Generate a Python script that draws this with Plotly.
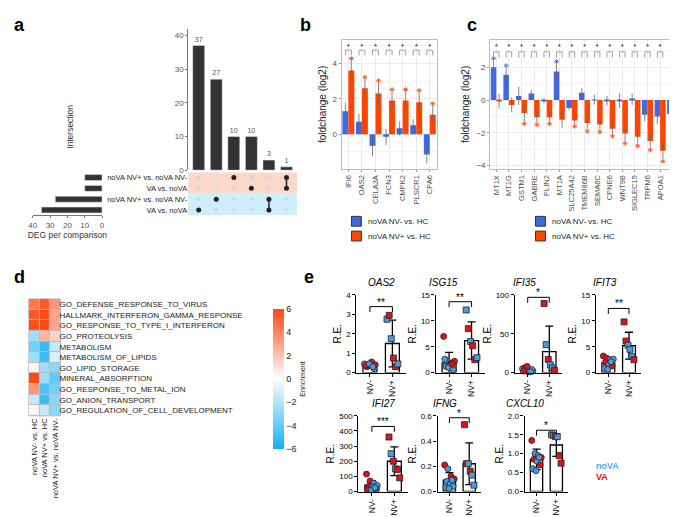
"""Multi-panel figure: upset plot, fold-change bars, enrichment heatmap, qPCR dot-bars"""
import numpy as np
import plotly.graph_objects as go

W, H = 677, 517

# ---- panel a: upset ----
upset_sizes = [37, 27, 10, 10, 3, 1]
upset_sets = ['noVA NV+ vs. noVA NV-', 'VA vs. noVA', 'noVA NV+ vs. noVA NV-', 'VA vs. noVA']
upset_set_sizes = [10, 10, 27, 35]
upset_members = [[3], [2], [0], [1], [2, 3], [0, 1]]

# ---- panel b ----
b_genes = ['IFI6', 'OAS2', 'CELA3A', 'FCN3', 'CMPK2', 'PLSCR1', 'CPA6']
b_nvm = [1.3, 0.7, -0.65, -0.15, 0.33, 0.5, -1.15]
b_nvm_err = [0.5, 0.45, 0.6, 0.45, 0.4, 0.35, 0.5]
b_nvp = [3.6, 2.6, 2.3, 1.9, 1.9, 1.8, 1.1]
b_nvp_err = [0.55, 0.5, 0.6, 0.5, 0.5, 0.55, 0.5]
b_sig_nvm = [0, 0, 0, 0, 0, 0, 0]
b_sig_nvp = [1, 1, 1, 1, 1, 1, 1]

# ---- panel c ----
c_genes = ['MT1X', 'MT1G', 'GSTM1', 'GABRE', 'PLIN2', 'MT1A', 'SLC25A42', 'TMEM86B',
           'SEMA6C', 'CPNE6', 'WNT9B', 'SIGLEC15', 'TRPM6', 'APOA1', 'AGXT2']
c_nvm = [2.0, 1.55, 0.25, 0.4, -0.05, 1.75, -0.48, 0.45, 0.02, -0.05, -0.03, 0.05, -0.9, -1.0, -0.85]
c_nvm_err = [0.4, 0.4, 0.55, 0.2, 0.15, 0.45, 0.15, 0.3, 0.3, 0.3, 0.45, 0.35, 0.4, 0.45, 0.35]
c_nvp = [-0.08, -0.3, -0.8, -1.05, -1.05, -1.2, -1.25, -1.4, -1.5, -1.75, -2.05, -2.25, -2.5, -3.1, -3.4]
c_nvp_err = [0.45, 0.45, 0.5, 0.3, 0.25, 0.5, 0.2, 0.35, 0.3, 0.3, 0.45, 0.4, 0.4, 0.5, 0.35]
c_sig_nvm = [1, 1, 0, 0, 0, 1, 0, 0, 0, 0, 0, 0, 0, 0, 0]
c_sig_nvp = [0, 0, 1, 1, 1, 0, 1, 1, 1, 1, 1, 1, 1, 1, 1]

# ---- panel d: enrichment heatmap ----
d_rows = ['GO_DEFENSE_RESPONSE_TO_VIRUS', 'HALLMARK_INTERFERON_GAMMA_RESPONSE',
          'GO_RESPONSE_TO_TYPE_I_INTERFERON', 'GO_PROTEOLYSIS', 'METABOLISM',
          'METABOLISM_OF_LIPIDS', 'GO_LIPID_STORAGE', 'MINERAL_ABSORPTION',
          'GO_RESPONSE_TO_METAL_ION', 'GO_ANION_TRANSPORT', 'GO_REGULATION_OF_CELL_DEVELOPMENT']
d_cols = ['noVA NV- vs. HC', 'noVA NV+ vs. HC', 'noVA NV+ vs. noVA NV-']
d_vals = [[4.5, 5.5, 3.5],
          [5.6, 6.0, 3.0],
          [5.8, 6.0, 3.0],
          [-2.5, 2.5, 1.5],
          [-3.5, -5.0, -1.5],
          [-2.5, -5.0, -1.0],
          [0.3, -2.5, -3.0],
          [6.0, -2.5, -4.0],
          [3.5, -4.5, -3.5],
          [-1.5, -5.0, -3.0],
          [0.3, -1.5, -3.0]]

# ---- panel e: RT-qPCR ----
e_genes = ['OAS2', 'ISG15', 'IFI35', 'IFIT3', 'IFI27', 'IFNG', 'CXCL10']
e_minus = [[0.45, 0.35, 0.55, 0.4, 0.3, 0.42, 0.2, 0.38, 0.45, 0.3],
           [7.0, 2.3, 1.8, 2.2, 1.2, 1.4, 0.6, 2.6, 1.0, 1.6],
           [5, 7, 3, 2, 6, 1, 4, 2, 8, 1],
           [3.2, 2.8, 2.5, 2.6, 2.0, 1.5, 1.3, 0.8, 0.6, 2.1],
           [115, 70, 55, 40, 35, 30, 20, 15, 10, 25],
           [0.21, 0.18, 0.12, 0.10, 0.08, 0.06, 0.04, 0.03, 0.025, 0.09],
           [1.35, 1.0, 0.95, 0.9, 0.85, 0.8, 0.7, 0.6, 0.55, 0.9]]
e_minus_va = [[0, 0, 1, 1, 1, 0, 0, 1, 0, 0],
              [1, 0, 1, 1, 0, 1, 0, 0, 0, 1],
              [0, 1, 1, 0, 1, 0, 0, 1, 1, 0],
              [1, 1, 0, 0, 1, 0, 1, 0, 0, 0],
              [1, 1, 0, 0, 1, 0, 0, 1, 0, 0],
              [1, 0, 1, 1, 0, 0, 0, 0, 0, 0],
              [1, 0, 0, 1, 1, 0, 1, 0, 0, 0]]
e_plus = [[2.75, 2.95, 1.75, 0.75, 0.3, 0.45],
          [12.1, 8.5, 6.0, 5.2, 2.5, 2.9],
          [89, 36, 17, 10, 6, 3],
          [9.8, 6.1, 5.3, 4.5, 3.1, 2.5],
          [360, 250, 200, 150, 145, 90],
          [0.53, 0.22, 0.22, 0.16, 0.13, 0.05],
          [1.5, 1.48, 1.45, 1.45, 0.95, 0.75]]
e_plus_va = [[0, 1, 0, 1, 1, 0],
             [0, 1, 0, 1, 1, 0],
             [1, 0, 1, 0, 0, 1],
             [1, 1, 0, 0, 0, 1],
             [1, 0, 1, 0, 1, 1],
             [1, 1, 0, 1, 0, 0],
             [0, 0, 1, 0, 1, 1]]
e_mean_minus = [0.38, 1.9, 3.5, 1.9, 42, 0.09, 0.85]
e_sd_minus = [0.1, 2.0, 2.5, 0.8, 30, 0.06, 0.27]
e_mean_plus = [1.5, 6.2, 27, 5.2, 200, 0.22, 1.23]
e_sd_plus = [1.2, 3.6, 33, 2.6, 95, 0.165, 0.3]
e_sig = ['**', '**', '*', '**', '***', '*', '*']
e_bracket = [3.4, 13.7, 97, 12.4, 430, 0.585, 1.62]
e_ymax = [4, 15, 100, 15, 500, 0.6, 2.0]
e_dtick = [1, 5, 50, 5, 100, 0.2, 0.5]

BLUE = '#4169E1'
RED = '#FF4500'
PT_BLUE = '#4A9BE0'
PT_RED = '#E3101A'
FONT = 'Liberation Sans, Arial, sans-serif'


def xd(l, r):
    return [l / W, r / W]


def yd(t, b):
    return [1 - b / H, 1 - t / H]


fig = go.Figure()
layout = {}
shapes = []
annots = []

# ================= panel a =================
xs = list(range(1, len(upset_sizes) + 1))
fig.add_trace(go.Bar(x=xs, y=upset_sizes, width=0.68, marker_color='#333333',
                     text=upset_sizes, textposition='outside', cliponaxis=False,
                     textfont=dict(size=7, color='#555'), xaxis='x', yaxis='y'))
layout['xaxis'] = dict(domain=xd(178, 288), range=[0.4, 6.6], visible=False, anchor='y')
layout['yaxis'] = dict(domain=yd(17, 161), range=[0, 42], tickvals=[0, 10, 20, 30, 40],
                       ticks='outside', ticklen=2, tickcolor='#777', showline=True,
                       linecolor='#777', linewidth=0.8, showgrid=False, zeroline=False,
                       tickfont=dict(size=8, color='#555'), anchor='x')

# matrix
shapes.append(dict(type='rect', xref='x2 domain', yref='y2', x0=0, x1=1, y0=2.5, y1=4.5,
                   fillcolor='#FBD8CA', line_width=0, layer='below'))
shapes.append(dict(type='rect', xref='x2 domain', yref='y2', x0=0, x1=1, y0=0.5, y1=2.5,
                   fillcolor='#CDEFFB', line_width=0, layer='below'))
gx, gy = [], []
for x in xs:
    for r in range(len(upset_sets)):
        gx.append(x)
        gy.append(4 - r)
fig.add_trace(go.Scatter(x=gx, y=gy, mode='markers', marker=dict(size=4, color='#DADADA'),
                         xaxis='x2', yaxis='y2'))
for x, mem in zip(xs, upset_members):
    ys = [4 - r for r in mem]
    fig.add_trace(go.Scatter(x=[x] * len(ys), y=ys, mode='lines+markers',
                             line=dict(color='#222', width=1.5),
                             marker=dict(size=5, color='#222'), xaxis='x2', yaxis='y2'))
layout['xaxis2'] = dict(domain=xd(178, 288), range=[0.4, 6.6], visible=False, anchor='y2')
layout['yaxis2'] = dict(domain=yd(163, 207), range=[0.5, 4.5], tickvals=[4, 3, 2, 1],
                        ticktext=upset_sets, ticks='', showgrid=False, zeroline=False,
                        tickfont=dict(size=7.5, color='#222'), anchor='x2')

# set-size bars
fig.add_trace(go.Bar(x=upset_set_sizes, y=[4, 3, 2, 1], orientation='h', width=0.55,
                     marker_color='#333333', xaxis='x3', yaxis='y3'))
layout['xaxis3'] = dict(domain=xd(21, 91), range=[40, 0], tickvals=[0, 10, 20, 30, 40],
                        ticks='outside', ticklen=2, tickcolor='#777', showline=True,
                        linecolor='#777', linewidth=0.8, showgrid=False, zeroline=False,
                        tickfont=dict(size=8, color='#555'),
                        title=dict(text='DEG per comparison', font=dict(size=8.5, color='#333'),
                                   standoff=0), anchor='y3')
layout['yaxis3'] = dict(domain=yd(163, 207), range=[0.5, 4.5], visible=False, anchor='x3')
annots.append(dict(x=52 / W, y=1 - 92 / H, xref='paper', yref='paper', text='Intersection',
                   textangle=-90, showarrow=False, font=dict(size=8.5, color='#333')))


# ================= panels b and c =================
def fold_panel(n, genes, nvm, nvm_err, nvp, nvp_err, sig_m, sig_p, br_lo, br_hi, star_y, off):
    ax, ay = 'x%d' % n, 'y%d' % n
    idx = np.arange(len(genes))
    fig.add_trace(go.Bar(x=idx - 0.22, y=nvm, width=0.44, marker=dict(color=BLUE, line=dict(width=0)),
                         error_y=dict(type='data', array=nvm_err, color='#666', thickness=0.8, width=0),
                         xaxis=ax, yaxis=ay))
    fig.add_trace(go.Bar(x=idx + 0.22, y=nvp, width=0.44, marker=dict(color=RED, line=dict(width=0)),
                         error_y=dict(type='data', array=nvp_err, color='#666', thickness=0.8, width=0),
                         xaxis=ax, yaxis=ay))
    for vals, errs, sig, dx_, col in [(nvm, nvm_err, sig_m, -0.22, '#5A7FF0'), (nvp, nvp_err, sig_p, 0.22, '#FF5A2A')]:
        sx, sy = [], []
        for i, (v, e, s) in enumerate(zip(vals, errs, sig)):
            if s:
                sx.append(i + dx_)
                sy.append(v + e + off if v >= 0 else v - e - off)
        fig.add_trace(go.Scatter(x=sx, y=sy, mode='markers', cliponaxis=False,
                                 marker=dict(symbol='asterisk-open', size=4, color=col,
                                             line=dict(color=col, width=1)),
                                 xaxis=ax, yaxis=ay))
    bx, by = [], []
    for i in idx:
        bx += [i - 0.22, i - 0.22, i + 0.22, i + 0.22, None]
        by += [br_lo, br_hi, br_hi, br_lo, None]
    fig.add_trace(go.Scatter(x=bx, y=by, mode='lines', line=dict(color='#A0A0A0', width=1),
                             xaxis=ax, yaxis=ay))
    fig.add_trace(go.Scatter(x=idx, y=[star_y] * len(genes), mode='text', text=['*'] * len(genes),
                             textfont=dict(size=8, color='#222'), xaxis=ax, yaxis=ay))


fold_panel(4, b_genes, b_nvm, b_nvm_err, b_nvp, b_nvp_err, b_sig_nvm, b_sig_nvp, 4.45, 4.75, 4.95, 0.12)
fold_panel(5, c_genes, c_nvm, c_nvm_err, c_nvp, c_nvp_err, c_sig_nvm, c_sig_nvp, 2.6, 2.95, 3.25, 0.15)

gg_x = dict(tickangle=-90, tickfont=dict(size=7.5, color='#4D4D4D'), showline=True, mirror=True,
            linecolor='#BDBDBD', linewidth=0.8, showgrid=True, gridcolor='#EBEBEB',
            ticks='outside', ticklen=2, tickcolor='#999', zeroline=False)
gg_y = dict(tickmode='linear', tick0=0, dtick=2, tickfont=dict(size=8, color='#4D4D4D'),
            showline=True, mirror=True, linecolor='#BDBDBD', linewidth=0.8, showgrid=True,
            gridcolor='#EBEBEB', ticks='outside', ticklen=2, tickcolor='#999', zeroline=False,
            minor=dict(tickmode='linear', tick0=0, dtick=1, showgrid=True, gridcolor='#F4F4F4', ticks=''),
            title=dict(text='foldchange (log2)', font=dict(size=10, color='#222'), standoff=4))
layout['xaxis4'] = dict(gg_x, domain=xd(333, 429), range=[-0.5, len(b_genes) - 0.5],
                        tickvals=list(range(len(b_genes))), ticktext=b_genes, anchor='y4')
layout['yaxis4'] = dict(gg_y, domain=yd(28, 160), range=[-1.98, 5.35], anchor='x4')
layout['xaxis5'] = dict(gg_x, domain=xd(483, 674), range=[-0.5, len(c_genes) - 0.5],
                        tickvals=list(range(len(c_genes))), ticktext=c_genes, anchor='y5')
layout['yaxis5'] = dict(gg_y, domain=yd(28, 160), range=[-4.23, 3.7], anchor='x5')

for lx in [343, 529]:
    for k, (col, lab) in enumerate([(BLUE, 'noVA NV- vs. HC'), (RED, 'noVA NV+ vs. HC')]):
        t = 208 + 15 * k
        shapes.append(dict(type='rect', xref='paper', yref='paper', x0=lx / W, x1=(lx + 10) / W,
                           y0=1 - (t + 10) / H, y1=1 - t / H, fillcolor=col,
                           line=dict(color='#333', width=1)))
        annots.append(dict(x=(lx + 15) / W, y=1 - (t + 5) / H, xref='paper', yref='paper', text=lab,
                           xanchor='left', showarrow=False, font=dict(size=8, color='#222')))

# ================= panel d =================
fig.add_trace(go.Heatmap(z=d_vals, x=d_cols, y=d_rows, zmin=-6, zmax=6, xgap=1, ygap=1,
                         colorscale=[[0, '#12B0F5'], [0.5, '#FFFFFF'], [1, '#FF4A14']],
                         colorbar=dict(x=254 / W, xanchor='left', thickness=11, len=163 / H,
                                       y=1 - 373.5 / H, yanchor='middle', outlinewidth=0,
                                       tickvals=[-6, -4, -2, 0, 2, 4, 6], ticks='',
                                       tickfont=dict(size=9, color='#222'),
                                       title=dict(text='Enrichment', side='right',
                                                  font=dict(size=7, color='#222'))),
                         xaxis='x6', yaxis='y6'))
shapes.append(dict(type='rect', xref='x6 domain', yref='y6 domain', x0=0, x1=1, y0=0, y1=1,
                   fillcolor='#BBBBBB', line=dict(color='#BBBBBB', width=1), layer='below'))
layout['xaxis6'] = dict(domain=xd(17, 49), tickangle=-90, ticks='', showgrid=False, zeroline=False,
                        tickfont=dict(size=7.5, color='#222'), anchor='y6')
layout['yaxis6'] = dict(domain=yd(292, 411), autorange='reversed', side='right', ticks='',
                        showgrid=False, zeroline=False, tickfont=dict(size=8, color='#222'),
                        ticklabelstandoff=-2, anchor='x6')

# ================= panel e =================
e_xdom = [(348, 398), (428, 478), (508, 556), (590, 636), (350, 400), (430, 474), (518, 562)]
e_ydom = [(288, 367)] * 4 + [(411, 488)] * 3
for k, g in enumerate(e_genes):
    n = 7 + k
    ax, ay = 'x%d' % n, 'y%d' % n
    fig.add_trace(go.Bar(x=[0, 1], y=[e_mean_minus[k], e_mean_plus[k]], width=0.62,
                         marker=dict(color='white', line=dict(color='black', width=1.3)),
                         xaxis=ax, yaxis=ay))
    fig.add_trace(go.Scatter(x=[0, 1], y=[e_mean_minus[k], e_mean_plus[k]], mode='markers',
                             marker=dict(size=1, color='black'), cliponaxis=False,
                             error_y=dict(type='data', array=[e_sd_minus[k], e_sd_plus[k]],
                                          color='black', thickness=1.3, width=4),
                             xaxis=ax, yaxis=ay))
    for grp, vals, flags, sym in [(0, e_minus[k], e_minus_va[k], 'circle'),
                                  (1, e_plus[k], e_plus_va[k], 'square')]:
        m = len(vals)
        jit = np.linspace(-0.24, 0.24, m)
        order = np.argsort(np.arange(m) * 7 % m)
        px = grp + jit[order]
        fig.add_trace(go.Scatter(x=px, y=vals, mode='markers', cliponaxis=False,
                                 marker=dict(symbol=sym, size=6,
                                             color=[PT_RED if f else PT_BLUE for f in flags],
                                             line=dict(color='#222', width=0.8)),
                                 xaxis=ax, yaxis=ay))
    br = e_bracket[k]
    leg = e_ymax[k] * 0.07
    fig.add_trace(go.Scatter(x=[0, 0, 1, 1], y=[br - leg, br, br, br - leg], mode='lines',
                             line=dict(color='black', width=1), cliponaxis=False,
                             xaxis=ax, yaxis=ay))
    annots.append(dict(x=0.5, y=br, xref=ax, yref=ay, text=e_sig[k], showarrow=False,
                       yanchor='bottom', yshift=-3, font=dict(size=10, color='black')))
    x0, x1 = e_xdom[k]
    t, b = e_ydom[k]
    annots.append(dict(x=(x0 + x1) / 2 / W, y=1 - (t - 5) / H, xref='paper', yref='paper',
                       text='<i>%s</i>' % g, showarrow=False, yanchor='bottom',
                       font=dict(size=10, color='black')))
    layout['xaxis%d' % n] = dict(domain=xd(x0, x1), range=[-0.6, 1.6], tickvals=[0, 1],
                                 ticktext=['NV-', 'NV+'], tickangle=-90, showline=True,
                                 linecolor='black', linewidth=1.3, ticks='outside', ticklen=3,
                                 tickcolor='black', showgrid=False, zeroline=False,
                                 tickfont=dict(size=8.5, color='black'), anchor=ay)
    fmt = '.1f' if e_dtick[k] < 1 else 'd'
    layout['yaxis%d' % n] = dict(domain=yd(t, b), range=[0, e_ymax[k]], tickmode='linear', tick0=0,
                                 dtick=e_dtick[k], tickformat=fmt, showline=True, linecolor='black',
                                 linewidth=1.3, ticks='outside', ticklen=3, tickcolor='black',
                                 showgrid=False, zeroline=False, tickfont=dict(size=8, color='black'),
                                 title=dict(text='R.E.', font=dict(size=10, color='black'), standoff=2),
                                 anchor=ax)

annots.append(dict(x=588 / W, y=1 - 469 / H, xref='paper', yref='paper', text='<b>noVA</b>',
                   xanchor='left', showarrow=False, font=dict(size=9, color='#4FA8E8')))
annots.append(dict(x=588 / W, y=1 - 480 / H, xref='paper', yref='paper', text='<b>VA</b>',
                   xanchor='left', showarrow=False, font=dict(size=9, color='#E8101A')))

# panel letters
for lab, lx, ly in [('a', 8, 13), ('b', 297, 13), ('c', 465, 13), ('d', 8, 270), ('e', 300, 270)]:
    annots.append(dict(x=lx / W, y=1 - ly / H, xref='paper', yref='paper', text='<b>%s</b>' % lab,
                       showarrow=False, xanchor='center', yanchor='middle',
                       font=dict(size=18, color='black')))

fig.update_layout(**layout)
fig.update_layout(width=W, height=H, margin=dict(l=0, r=0, t=0, b=0), showlegend=False,
                  paper_bgcolor='white', plot_bgcolor='white', barmode='overlay',
                  font=dict(family=FONT), shapes=shapes, annotations=annots)

fig.write_html("out.html")
